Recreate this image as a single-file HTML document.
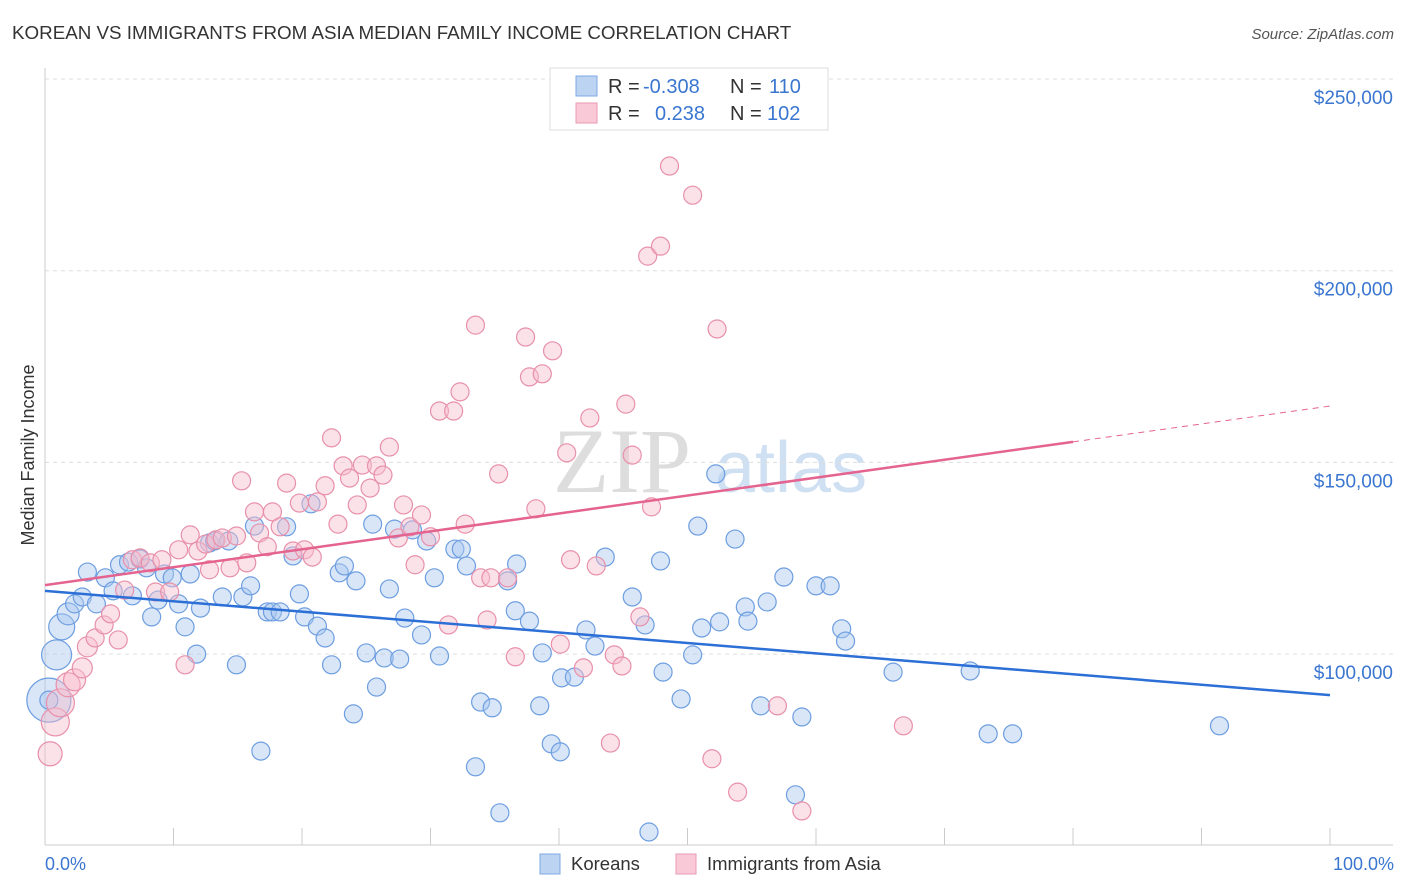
<!DOCTYPE html>
<html><head><meta charset="utf-8"><style>
body{margin:0;background:#fff;font-family:"Liberation Sans",sans-serif;}
svg{display:block}
</style></head><body>
<svg id="c" width="1406" height="892" xmlns="http://www.w3.org/2000/svg">
<text x="12" y="39" font-size="18.8" fill="#333">KOREAN VS IMMIGRANTS FROM ASIA MEDIAN FAMILY INCOME CORRELATION CHART</text>
<text x="1394" y="39" font-size="15" fill="#555" font-style="italic" text-anchor="end">Source: ZipAtlas.com</text>
<g>
<text x="553" y="492" font-size="92" fill="#ddd" font-family="Liberation Serif,serif">ZIP</text>
<text x="715" y="492" font-size="72" fill="#cfe0f3">atlas</text>
</g>
<g id="grid"></g>
<g id="axes"></g>
<g id="blue"></g>
<g id="pink"></g>
<g id="lines"></g>
<text x="34" y="455" font-size="18" fill="#333" text-anchor="middle" transform="rotate(-90 34 455)">Median Family Income</text>
<text x="45" y="870" font-size="18" fill="#3a76d0">0.0%</text>
<text x="1394" y="870" font-size="18" fill="#3a76d0" text-anchor="end">100.0%</text>
<g>
<rect x="550" y="68" width="278" height="62" fill="#fff" stroke="#ddd"/>
<rect x="576" y="76" width="21" height="20" fill="#bcd4f2" stroke="#7ea8e4"/>
<rect x="576" y="103" width="21" height="20" fill="#f9c9d7" stroke="#e99ab3"/>
<text y="93" font-size="20"><tspan x="608" fill="#333">R = </tspan><tspan x="643" fill="#3a76d0">-0.308</tspan><tspan x="730" fill="#333">N = </tspan><tspan x="769" fill="#3a76d0">110</tspan></text>
<text y="120" font-size="20"><tspan x="608" fill="#333">R = </tspan><tspan x="655" fill="#3a76d0">0.238</tspan><tspan x="730" fill="#333">N = </tspan><tspan x="767" fill="#3a76d0">102</tspan></text>
</g>
<g>
<rect x="540" y="854" width="20" height="20" fill="#bcd4f2" stroke="#7ea8e4"/>
<text x="571" y="870" font-size="18.5" fill="#333">Koreans</text>
<rect x="676" y="854" width="20" height="20" fill="#f9c9d7" stroke="#e99ab3"/>
<text x="707" y="870" font-size="18.5" fill="#333">Immigrants from Asia</text>
</g>
</svg>
<script>
const yTicks=[100,150,200,250];
const yTickLabels=["$100,000","$150,000","$200,000","$250,000"];
const blueX=[0.3,0.9,1.3,1.8,2.3,2.9,3.3,4,4.7,5.3,5.8,6.5,6.8,7.4,7.9,8.3,8.8,9.3,9.9,10.4,10.9,11.3,11.8,12.1,12.8,13.2,13.8,14.3,14.9,15.4,16,16.3,16.8,17.3,17.7,18.3,18.8,19.3,19.8,20.2,20.7,21.2,21.8,22.3,22.9,23.3,24,24.2,25,25.5,25.8,26.4,26.8,27.2,27.6,28,28.6,29.3,29.7,30.3,30.7,31.9,32.4,32.8,33.5,33.9,34.8,35.4,36,36.6,36.7,37.7,38.5,38.7,39.4,40.1,40.2,41.2,42.1,42.8,43.6,45.7,46.7,47,47.9,48.1,49.5,50.4,50.8,51.1,52.2,52.5,53.7,54.5,54.7,55.7,56.2,57.5,58.4,58.9,60,61.1,62,62.3,66,72,73.4,75.3,91.4,0.3];
const blueY=[88,99.8,107.1,110.5,113.1,114.9,121.4,113.1,119.9,116.5,123.3,124,115.2,124.8,122.5,109.7,114.1,120.9,119.9,113.1,107.1,120.9,100,112,129,129.5,114.9,129.5,97.2,114.9,117.8,133.4,74.7,111,111,111,133.2,125.6,115.7,109.7,139.2,107.3,104.2,97.2,121.2,123,84.4,119.1,100.3,133.9,91.4,99,117,132.6,98.7,109.4,132.4,105,129.5,119.9,99.5,127.4,127.4,123,70.6,87.5,86,58.6,119.1,111.3,123.5,108.6,86.5,100.3,76.6,74.5,93.8,94,106.3,102.1,125.3,114.9,107.6,53.6,124.3,95.3,88.3,99.8,133.4,106.8,147,108.4,130,112.3,108.6,86.5,113.6,120.1,63.3,83.6,117.8,117.8,106.6,103.4,95.3,95.6,79.2,79.2,81.3,88];
const blueR=[22,15,13,11,9,9,9,9,9,9,9,9,9,9,9,9,9,9,9,9,9,9,9,9,9,9,9,9,9,9,9,9,9,9,9,9,9,9,9,9,9,9,9,9,9,9,9,9,9,9,9,9,9,9,9,9,9,9,9,9,9,9,9,9,9,9,9,9,9,9,9,9,9,9,9,9,9,9,9,9,9,9,9,9,9,9,9,9,9,9,9,9,9,9,9,9,9,9,9,9,9,9,9,9,9,9,9,9,9,9,9];
const pinkX=[0.4,0.8,1.2,1.8,2.3,2.9,3.3,3.9,4.6,5.1,5.7,6.2,6.8,7.4,8.2,8.6,9.1,9.7,10.4,10.9,11.3,11.9,12.5,12.8,13.3,13.8,14.4,14.9,15.3,15.7,16.3,16.7,17.3,17.7,18.3,18.8,19.3,19.8,20.2,20.8,21.2,21.8,22.3,22.8,23.2,23.7,24.3,24.7,25.3,25.8,26.3,26.8,27.5,27.9,28.4,28.8,29.3,30,30.7,31.4,31.8,32.3,32.7,33.5,33.9,34.4,34.7,35.3,36,36.6,37.4,37.7,38.2,38.7,39.5,40.1,40.6,40.9,41.9,42.4,42.9,44,44.3,44.9,45.2,45.7,46.3,47.2,46.9,47.9,48.6,50.4,51.9,52.3,53.9,57,58.9,66.8];
const pinkY=[74,82.3,87.3,92,93.3,96.4,101.9,104.2,107.6,110.5,103.7,116.7,124.6,125.1,123.8,116.2,124.6,116.2,127.2,97.2,131.1,126.9,128.7,122,129.8,130.3,122.5,130.8,145.2,123.8,137.1,131.6,128,137.1,133.2,144.6,126.9,139.4,127.2,125.3,139.7,143.9,156.4,133.9,149.1,145.9,138.9,149.3,143.3,149.1,146.7,154,130.3,138.9,133.2,123.3,136.3,130.6,163.4,107.6,163.4,168.4,133.9,185.8,119.9,108.9,119.9,147,119.9,99.3,182.7,172.3,137.9,173.1,179.1,102.6,152.5,124.6,96.4,161.6,123,76.8,99.8,96.9,165.2,151.9,109.7,138.4,203.8,206.4,227.3,219.7,72.7,184.8,64,86.5,59.1,81.3];
const pinkR=[12,14,14,12,11,10,10,9,9,9,9,9,9,9,9,9,9,9,9,9,9,9,9,9,9,9,9,9,9,9,9,9,9,9,9,9,9,9,9,9,9,9,9,9,9,9,9,9,9,9,9,9,9,9,9,9,9,9,9,9,9,9,9,9,9,9,9,9,9,9,9,9,9,9,9,9,9,9,9,9,9,9,9,9,9,9,9,9,9,9,9,9,9,9,9,9,9,9];
const blueTrend=[116.5,89.3];
const pinkTrend=[118,164.7];
const pinkSolidEnd=[80];
const NS='http://www.w3.org/2000/svg';
const xs=p=>45+p*12.85;
const ys=v=>79+(250-v)*3.834;
function mk(tag,attrs,parent){const e=document.createElementNS(NS,tag);for(const k in attrs)e.setAttribute(k,attrs[k]);parent.appendChild(e);return e;}
const grid=document.getElementById('grid');
yTicks.forEach((t,i)=>{
 const l=mk('line',{x1:45,x2:1393,y1:ys(t),y2:ys(t),stroke:'#ddd','stroke-dasharray':'4,4'},grid);
 
 
 const tx=mk('text',{x:1393,y:ys(t)+25,'font-size':19,fill:'#3a76d0','text-anchor':'end'},grid);
 tx.textContent=yTickLabels[i];
 
 
});
const axes=document.getElementById('axes');
let a=mk('line',{x1:45,x2:45,y1:68,y2:845,stroke:'#ccc'},axes);


a=mk('line',{x1:45,x2:1393,y1:845,y2:845,stroke:'#ccc'},axes);


for(let i=0;i<=10;i++){
 const t=mk('line',{x1:xs(i*10),x2:xs(i*10),y1:828,y2:845,stroke:'#ccc'},axes);
 
 
}
function dots(X,Y,R,g,fill,stroke,name){
 X.forEach((x,i)=>{
  const c=mk('circle',{cx:xs(x),cy:ys(Y[i]),r:R[i]||9,fill:fill,'fill-opacity':0.45,stroke:stroke,'stroke-width':1.2},g);
  
  
 });
}
dots(blueX,blueY,blueR,document.getElementById('blue'),'#a9c8ef','#6e9ee0','korean-point');
dots(pinkX,pinkY,pinkR,document.getElementById('pink'),'#f7bccd','#e890ab','asia-point');
const lg=document.getElementById('lines');
let ln=mk('line',{x1:xs(0),y1:ys(blueTrend[0]),x2:xs(100),y2:ys(blueTrend[1]),stroke:'#2c6fd6','stroke-width':2.5},lg);


const pAt=p=>pinkTrend[0]+(pinkTrend[1]-pinkTrend[0])*p/100;
ln=mk('line',{x1:xs(0),y1:ys(pAt(0)),x2:xs(pinkSolidEnd[0]),y2:ys(pAt(pinkSolidEnd[0])),stroke:'#e4638f','stroke-width':2.5},lg);


ln=mk('line',{x1:xs(pinkSolidEnd[0]),y1:ys(pAt(pinkSolidEnd[0])),x2:xs(100),y2:ys(pAt(100)),stroke:'#e4638f','stroke-width':1,'stroke-dasharray':'6,5'},lg);


</script>
</body></html>
